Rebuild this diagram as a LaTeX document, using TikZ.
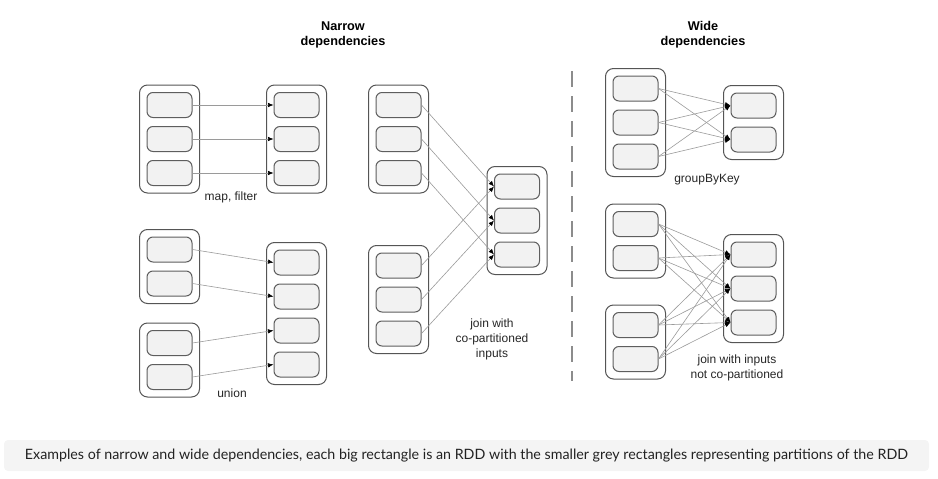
\documentclass[tikz,border=0pt]{standalone}
\usepackage{fontspec}
\setmainfont{Liberation Sans}
\newfontfamily\capfont{Lato}
\usetikzlibrary{arrows.meta,fit}

\definecolor{partfill}{HTML}{F2F2F2}
\definecolor{partline}{HTML}{5E5E5E}
\definecolor{rddline}{HTML}{555555}
\definecolor{depgray}{HTML}{9A9A9A}
\definecolor{sepgray}{HTML}{8C8C8C}
\definecolor{capfill}{HTML}{F4F4F4}
\definecolor{captext}{HTML}{222222}

\tikzset{
	partbox/.style={draw=partline, fill=partfill, rounded corners=6pt, line width=1pt,
		minimum width=45pt, minimum height=25pt, inner sep=0pt},
	rddbox/.style={draw=rddline, rounded corners=8pt, line width=1pt, inner sep=7pt},
	depline/.style={draw=depgray, line width=0.6pt, -{Latex[length=5.5pt,width=4.5pt,color=black]}},
	sepline/.style={draw=sepgray, line width=1.6pt, dash pattern=on 16pt off 9pt},
	lbl/.style={font=\fontsize{12}{15}\selectfont, align=center, text=black!85},
	ttl/.style={font=\bfseries\fontsize{12.7}{15}\selectfont, align=center},
	capbox/.style={fill=capfill, rounded corners=4pt, minimum width=925pt, minimum height=31pt,
		inner sep=0pt, text=captext}
}

\begin{document}
\begin{tikzpicture}[x=1pt, y=-1pt, node distance=34pt]
					\useasboundingbox (0,0) rectangle (938,479);

					% titles
					\node[ttl] (narrowTtl) at (343,34.5) {Narrow\\dependencies};
					\node[ttl] (wideTtl) at (703,34.5) {Wide\\dependencies};

					% map, filter
					\node[partbox] (mapA1) at (169.5,105) {};
					\node[partbox] (mapA2)[below of = mapA1] {};
					\node[partbox] (mapA3)[below of = mapA2] {};
					\node[partbox] (mapB1) at (296.5,105) {};
					\node[partbox] (mapB2)[below of = mapB1] {};
					\node[partbox] (mapB3)[below of = mapB2] {};
					\node[rddbox, fit=(mapA1)(mapA3)] (mapA) {};
					\node[rddbox, fit=(mapB1)(mapB3)] (mapB) {};
					\node[lbl] (mapLbl) at (231,197) {map, filter};

					% union
					\node[partbox] (uniA1) at (169.5,249.5) {};
					\node[partbox] (uniA2)[below of = uniA1] {};
					\node[partbox] (uniB1) at (169.5,343) {};
					\node[partbox] (uniB2)[below of = uniB1] {};
					\node[partbox] (uniC1) at (296.5,262.5) {};
					\node[partbox] (uniC2)[below of = uniC1] {};
					\node[partbox] (uniC3)[below of = uniC2] {};
					\node[partbox] (uniC4)[below of = uniC3] {};
					\node[rddbox, fit=(uniA1)(uniA2)] (uniA) {};
					\node[rddbox, fit=(uniB1)(uniB2)] (uniB) {};
					\node[rddbox, fit=(uniC1)(uniC4)] (uniC) {};
					\node[lbl] (uniLbl) at (232,393) {union};

					% join with co-partitioned inputs
					\node[partbox] (joinA1) at (398.5,105) {};
					\node[partbox] (joinA2)[below of = joinA1] {};
					\node[partbox] (joinA3)[below of = joinA2] {};
					\node[partbox] (joinB1) at (398.5,265.5) {};
					\node[partbox] (joinB2)[below of = joinB1] {};
					\node[partbox] (joinB3)[below of = joinB2] {};
					\node[partbox] (joinC1) at (517,186.5) {};
					\node[partbox] (joinC2)[below of = joinC1] {};
					\node[partbox] (joinC3)[below of = joinC2] {};
					\node[rddbox, fit=(joinA1)(joinA3)] (joinA) {};
					\node[rddbox, fit=(joinB1)(joinB3)] (joinB) {};
					\node[rddbox, fit=(joinC1)(joinC3)] (joinC) {};
					\node[lbl] (joinLbl) at (492,339) {join with\\co-partitioned\\inputs};

					% separator
					\coordinate (sepTop) at (572,71);
					\coordinate (sepBot) at (572,381);
					\draw[sepline] (sepTop) -- (sepBot);

					% groupByKey
					\node[partbox] (gbkA1) at (635.5,88.5) {};
					\node[partbox] (gbkA2)[below of = gbkA1] {};
					\node[partbox] (gbkA3)[below of = gbkA2] {};
					\node[partbox] (gbkB1) at (753.5,105.5) {};
					\node[partbox] (gbkB2)[below of = gbkB1] {};
					\node[rddbox, fit=(gbkA1)(gbkA3)] (gbkA) {};
					\node[rddbox, fit=(gbkB1)(gbkB2)] (gbkB) {};
					\node[lbl] (gbkLbl) at (707,180) {groupByKey};

					% join with inputs not co-partitioned
					\node[partbox] (wjnA1) at (635.5,224) {};
					\node[partbox] (wjnA2)[below of = wjnA1] {};
					\node[partbox] (wjnB1) at (635.5,325) {};
					\node[partbox] (wjnB2)[below of = wjnB1] {};
					\node[partbox] (wjnC1) at (753.5,254.5) {};
					\node[partbox] (wjnC2)[below of = wjnC1] {};
					\node[partbox] (wjnC3)[below of = wjnC2] {};
					\node[rddbox, fit=(wjnA1)(wjnA2)] (wjnA) {};
					\node[rddbox, fit=(wjnB1)(wjnB2)] (wjnB) {};
					\node[rddbox, fit=(wjnC1)(wjnC3)] (wjnC) {};
					\node[lbl] (wjnLbl) at (737,368) {join with inputs\\not co-partitioned};

					\path[every edge/.style={depline}]
					(mapA1.east) edge (mapB1.west)
					(mapA2.east) edge (mapB2.west)
					(mapA3.east) edge (mapB3.west)

					(uniA1.east) edge (uniC1.west)
					(uniA2.east) edge (uniC2.west)
					(uniB1.east) edge (uniC3.west)
					(uniB2.east) edge (uniC4.west)

					(joinA1.east) edge (joinC1.west)
					(joinA2.east) edge (joinC2.west)
					(joinA3.east) edge (joinC3.west)
					(joinB1.east) edge (joinC1.west)
					(joinB2.east) edge (joinC2.west)
					(joinB3.east) edge (joinC3.west)

					(gbkA1.east) edge (gbkB1.west)
					(gbkA1.east) edge (gbkB2.west)
					(gbkA2.east) edge (gbkB1.west)
					(gbkA2.east) edge (gbkB2.west)
					(gbkA3.east) edge (gbkB1.west)
					(gbkA3.east) edge (gbkB2.west)

					(wjnA1.east) edge (wjnC1.west)
					(wjnA1.east) edge (wjnC2.west)
					(wjnA1.east) edge (wjnC3.west)
					(wjnA2.east) edge (wjnC1.west)
					(wjnA2.east) edge (wjnC2.west)
					(wjnA2.east) edge (wjnC3.west)
					(wjnB1.east) edge (wjnC1.west)
					(wjnB1.east) edge (wjnC2.west)
					(wjnB1.east) edge (wjnC3.west)
					(wjnB2.east) edge (wjnC1.west)
					(wjnB2.east) edge (wjnC2.west)
					(wjnB2.east) edge (wjnC3.west)
					;

					% caption
					\node[capbox] (caption) at (466.5,455.5)
						{\resizebox{883pt}{!}{\capfont Examples of narrow and wide dependencies, each big rectangle is an RDD with the smaller grey rectangles representing partitions of the RDD}};
				\end{tikzpicture}
\end{document}
